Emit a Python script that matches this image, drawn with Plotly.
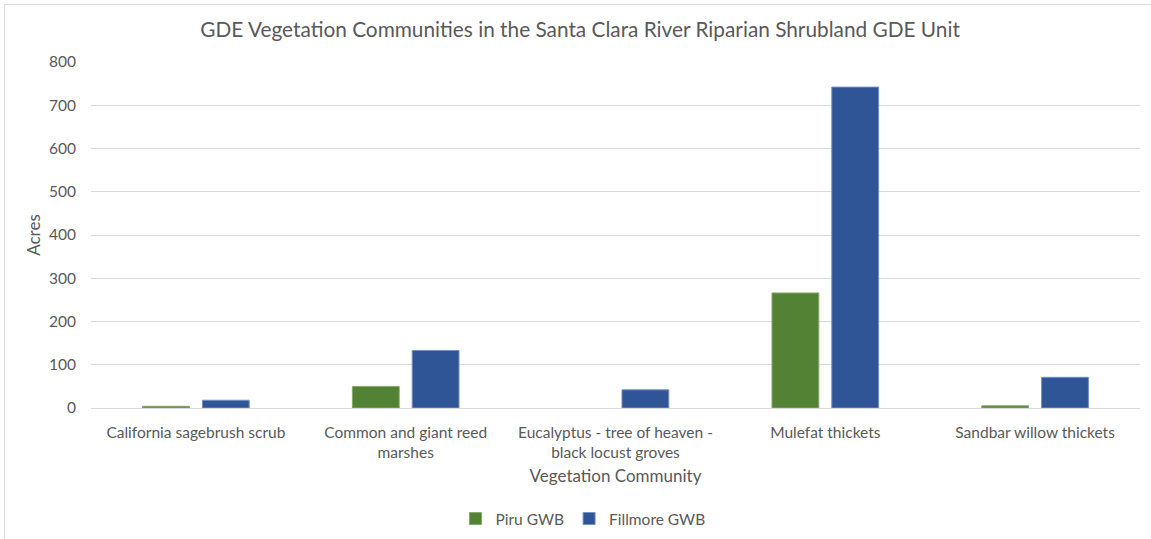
import plotly.graph_objects as go

categories = [
    "California sagebrush scrub",
    "Common and giant reed<br>marshes",
    "Eucalyptus - tree of heaven -<br>black locust groves",
    "Mulefat thickets",
    "Sandbar willow thickets",
]
piru_acres = [4, 50, None, 266, 5]
fillmore_acres = [18, 133, 42, 742, 71]
y_ticks = [0, 100, 200, 300, 400, 500, 600, 700, 800]

FONT = "Lato, 'Open Sans', sans-serif"
TEXT_GREY = "#595959"

fig = go.Figure()
fig.add_trace(go.Bar(
    name="Piru GWB", x=categories, y=piru_acres,
    marker=dict(color="#548235", line=dict(color="#86a86a", width=1)),
))
fig.add_trace(go.Bar(
    name="Fillmore GWB", x=categories, y=fillmore_acres,
    marker=dict(color="#2f5597", line=dict(color="#7391c6", width=1)),
))

fig.update_layout(
    width=1151, height=539,
    margin=dict(l=91, r=11, t=62, b=131, autoexpand=False),
    paper_bgcolor="white", plot_bgcolor="white",
    font=dict(family=FONT, color=TEXT_GREY, size=15.5),
    title=dict(
        text="GDE Vegetation Communities in the Santa Clara River Riparian Shrubland GDE Unit",
        x=0.504, xanchor="center", y=1 - 30 / 539, yanchor="middle",
        font=dict(size=20.8, color=TEXT_GREY, family=FONT),
    ),
    barmode="group", bargap=0.43, bargroupgap=0.217,
    showlegend=True,
    legend=dict(
        orientation="h", x=(583 - 91) / 1049, xanchor="center",
        yref="container", y=1 - 519 / 539, yanchor="middle",
        font=dict(size=15.5, color=TEXT_GREY), itemwidth=30,
    ),
    xaxis=dict(
        automargin=False,
        showgrid=False, showline=True, linecolor="#d9d9d9", linewidth=1,
        ticks="", ticklabelstandoff=10, tickfont=dict(size=15.5, color=TEXT_GREY),
        title=dict(text="Vegetation Community", font=dict(size=17, color=TEXT_GREY), standoff=10),
    ),
    yaxis=dict(
        automargin=False,
        range=[0, 800], tickvals=y_ticks, showgrid=True, gridcolor="#d9d9d9",
        zeroline=False, showline=False, ticks="", ticklabelstandoff=14,
        tickfont=dict(size=15.5, color=TEXT_GREY),
        title=dict(text="Acres", font=dict(size=17, color=TEXT_GREY), standoff=4),
    ),
    shapes=[dict(
        type="rect", xref="paper", yref="paper",
        x0=(4.5 - 91) / 1049, x1=(1160 - 91) / 1049,
        y0=(408 - 560) / 346, y1=(408 - 4.5) / 346,
        line=dict(color="#d9d9d9", width=1), fillcolor="rgba(0,0,0,0)", layer="below",
    )],
)

fig.write_html("out.html")
